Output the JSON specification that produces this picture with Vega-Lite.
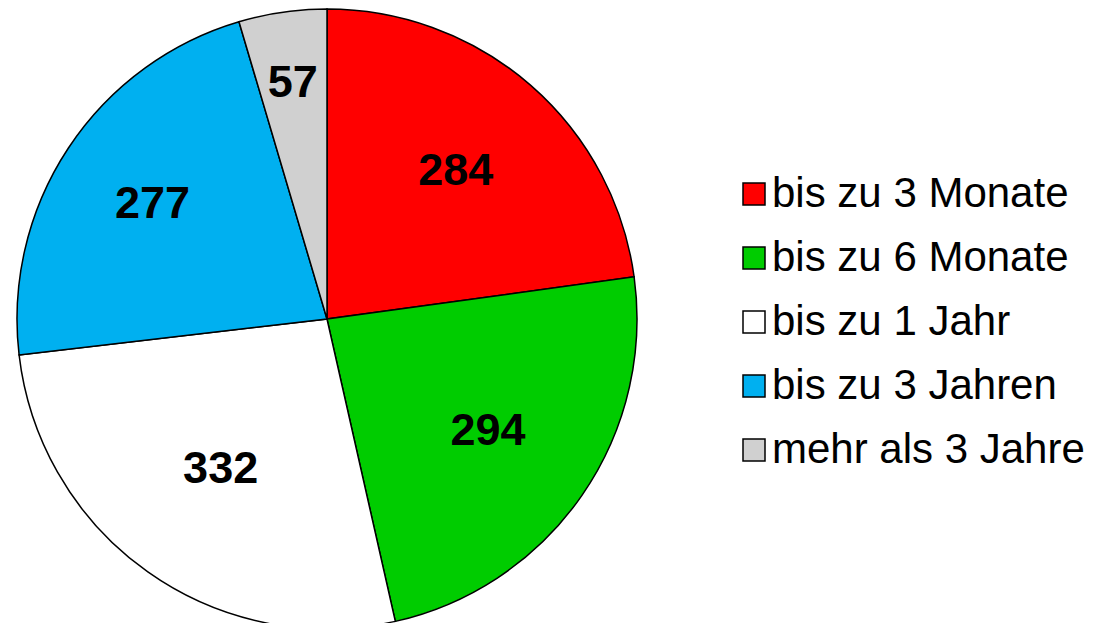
{
  "$schema": "https://vega.github.io/schema/vega-lite/v6.json",
  "width": 620,
  "height": 620,
  "padding": {"left": 14, "top": 6, "right": 0, "bottom": 0},
  "background": "white",
  "data": {
    "values": [
      {"cat": "bis zu 3 Monate", "n": 284, "ord": 1},
      {"cat": "bis zu 6 Monate", "n": 294, "ord": 2},
      {"cat": "bis zu 1 Jahr", "n": 332, "ord": 3},
      {"cat": "bis zu 3 Jahren", "n": 277, "ord": 4},
      {"cat": "mehr als 3 Jahre", "n": 57, "ord": 5}
    ]
  },
  "encoding": {
    "theta": {"field": "n", "type": "quantitative", "stack": true},
    "order": {"field": "ord", "type": "quantitative"}
  },
  "layer": [
    {
      "mark": {"type": "arc", "outerRadius": 310, "stroke": "black", "strokeWidth": 1.5},
      "encoding": {
        "color": {
          "field": "cat",
          "type": "nominal",
          "sort": ["bis zu 3 Monate", "bis zu 6 Monate", "bis zu 1 Jahr", "bis zu 3 Jahren", "mehr als 3 Jahre"],
          "scale": {
            "domain": ["bis zu 3 Monate", "bis zu 6 Monate", "bis zu 1 Jahr", "bis zu 3 Jahren", "mehr als 3 Jahre"],
            "range": ["#FF0000", "#00CC00", "#FFFFFF", "#00B0F0", "#D0D0D0"]
          },
          "legend": {
            "title": null,
            "orient": "none",
            "legendX": 716,
            "legendY": 164,
            "direction": "vertical",
            "symbolType": "square",
            "symbolSize": 484,
            "symbolStrokeColor": "black",
            "symbolStrokeWidth": 1.5,
            "symbolOpacity": 1,
            "labelFontSize": 42,
            "labelFont": "Liberation Sans",
            "labelColor": "black",
            "labelLimit": 500,
            "rowPadding": 22,
            "labelOffset": -3,
            "padding": 0
          }
        }
      }
    },
    {
      "mark": {"type": "text", "radius": 196, "fontSize": 45, "fontWeight": "bold", "font": "Liberation Sans", "color": "black"},
      "encoding": {
        "text": {"condition": {"test": "datum.n != 284 && datum.n != 294", "value": ""}, "field": "n", "type": "quantitative"}
      }
    },
    {
      "mark": {"type": "text", "radius": 184, "fontSize": 45, "fontWeight": "bold", "font": "Liberation Sans", "color": "black"},
      "encoding": {
        "text": {"condition": {"test": "datum.n != 332", "value": ""}, "field": "n", "type": "quantitative"}
      }
    },
    {
      "mark": {"type": "text", "radius": 209, "fontSize": 45, "fontWeight": "bold", "font": "Liberation Sans", "color": "black"},
      "encoding": {
        "text": {"condition": {"test": "datum.n != 277", "value": ""}, "field": "n", "type": "quantitative"}
      }
    },
    {
      "mark": {"type": "text", "radius": 238, "fontSize": 45, "fontWeight": "bold", "font": "Liberation Sans", "color": "black"},
      "encoding": {
        "text": {"condition": {"test": "datum.n != 57", "value": ""}, "field": "n", "type": "quantitative"}
      }
    }
  ],
  "config": {"view": {"stroke": null}}
}
